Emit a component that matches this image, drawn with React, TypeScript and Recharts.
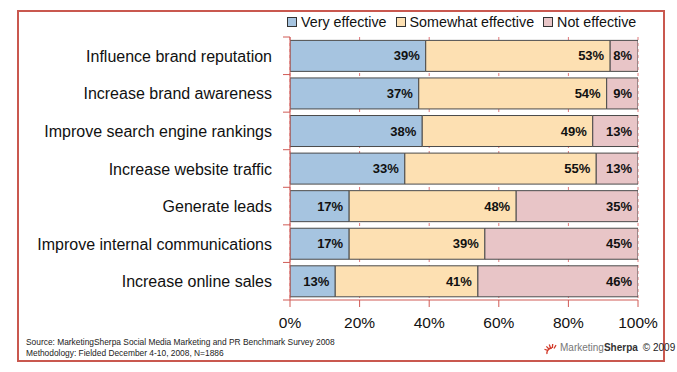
import { BarChart, Bar, XAxis, YAxis, CartesianGrid, LabelList } from "recharts";

const categories = [
  "Influence brand reputation",
  "Increase brand awareness",
  "Improve search engine rankings",
  "Increase website traffic",
  "Generate leads",
  "Improve internal communications",
  "Increase online sales",
];
const veryEffective = [39, 37, 38, 33, 17, 17, 13];
const somewhatEffective = [53, 54, 49, 55, 48, 39, 41];
const notEffective = [8, 9, 13, 13, 35, 45, 46];
const xTicks = [0, 20, 40, 60, 80, 100];

const series = [
  { key: "very", name: "Very effective", color: "#a6c4e0" },
  { key: "somewhat", name: "Somewhat effective", color: "#fde0b2" },
  { key: "not", name: "Not effective", color: "#e8c5c7" },
];

const data = categories.map((name, i) => ({
  name,
  very: veryEffective[i],
  somewhat: somewhatEffective[i],
  not: notEffective[i],
}));

const RED = "#d05a55";
const FONT = "'Liberation Sans', Arial, sans-serif";
const PLOT_TOP = 37;
const PLOT_BOTTOM = 300;
const X_AXIS_HEIGHT = 30;
const BAND = (PLOT_BOTTOM - PLOT_TOP) / categories.length;

function CategoryTick(props: any) {
  const { x, y, payload, index } = props;
  const half = BAND / 2;
  return (
    <g>
      <text x={x} y={y} dy={6} textAnchor="end" fontSize={16} fontFamily={FONT} fill="#111">
        {payload.value}
      </text>
      <line x1={283} x2={290} y1={y + half} y2={y + half} stroke={RED} strokeWidth={1} />
      {index === 0 && <line x1={283} x2={290} y1={y - half} y2={y - half} stroke={RED} strokeWidth={1} />}
    </g>
  );
}

function ChartLegend() {
  return (
    <div
      style={{
        position: "absolute",
        left: 287,
        top: 14,
        display: "flex",
        gap: 9,
        fontFamily: FONT,
        fontSize: 14.3,
        color: "#111",
        whiteSpace: "nowrap",
      }}
    >
      {series.map((s) => (
        <span key={s.key} style={{ display: "flex", alignItems: "center" }}>
          <span
            style={{
              display: "inline-block",
              width: 8,
              height: 8,
              background: s.color,
              border: "1px solid #333",
              marginRight: 4,
            }}
          />
          {s.name}
        </span>
      ))}
    </div>
  );
}

function SherpaIcon() {
  const rays = [-70, -45, -20, 5, 30];
  return (
    <svg width={16} height={14} style={{ verticalAlign: "middle" }}>
      {rays.map((a) => {
        const r = (a * Math.PI) / 180;
        return (
          <line
            key={a}
            x1={8 + Math.sin(r) * 4}
            y1={11 - Math.cos(r) * 4}
            x2={8 + Math.sin(r) * 8}
            y2={11 - Math.cos(r) * 8}
            stroke="#d23a2a"
            strokeWidth={1.3}
          />
        );
      })}
      <path d="M3 13 A5 5 0 0 1 8 7" fill="none" stroke="#d23a2a" strokeWidth={1.3} />
    </svg>
  );
}

export default function App() {
  return (
    <div style={{ position: "absolute", left: 0, top: 0, width: 677, height: 372, background: "#fff" }}>
      <div
        style={{
          position: "absolute",
          left: 17,
          top: 10,
          width: 644,
          height: 348,
          border: "2px solid #c9584f",
        }}
      />
      <ChartLegend />
      <div style={{ position: "absolute", left: 0, top: 0 }}>
        <BarChart
          width={677}
          height={372}
          data={data}
          layout="vertical"
          margin={{ top: PLOT_TOP, right: 39, bottom: 372 - PLOT_BOTTOM - X_AXIS_HEIGHT, left: 0 }}
          barCategoryGap="9%"
        >
          <CartesianGrid horizontal={false} stroke="#e0787a" strokeDasharray="3 3" />
          <XAxis
            type="number"
            domain={[0, 100]}
            allowDataOverflow
            height={X_AXIS_HEIGHT}
            ticks={xTicks}
            tickFormatter={(v) => `${v}%`}
            axisLine={{ stroke: RED }}
            tickLine={{ stroke: RED }}
            tickSize={7}
            tickMargin={10}
            tick={{ fontSize: 15.5, fontFamily: FONT, fill: "#111" }}
          />
          <YAxis
            type="category"
            dataKey="name"
            width={290}
            axisLine={{ stroke: RED }}
            tickLine={false}
            tickMargin={12}
            tick={<CategoryTick />}
            interval={0}
          />
          {series.map((s) => (
            <Bar
              key={s.key}
              dataKey={s.key}
              name={s.name}
              stackId="a"
              fill={s.color}
              stroke="#4a4a4a"
              strokeWidth={1}
              isAnimationActive={false}
            >
              <LabelList
                dataKey={s.key}
                position="insideRight"
                offset={6}
                formatter={(v: any) => `${v}%`}
                style={{ fontSize: 13, fontWeight: "bold", fontFamily: FONT, fill: "#111" }}
              />
            </Bar>
          ))}
        </BarChart>
      </div>
      <div
        style={{
          position: "absolute",
          left: 26,
          top: 337,
          fontFamily: FONT,
          fontSize: 8.4,
          color: "#222",
          lineHeight: "11px",
          whiteSpace: "nowrap",
        }}
      >
        <div>Source: MarketingSherpa Social Media Marketing and PR Benchmark Survey 2008</div>
        <div>Methodology: Fielded December 4-10, 2008, N=1886</div>
      </div>
      <div
        style={{
          position: "absolute",
          left: 544,
          top: 341,
          fontFamily: FONT,
          fontSize: 10,
          color: "#222",
          whiteSpace: "nowrap",
        }}
      >
        <SherpaIcon />
        <span style={{ color: "#777" }}>Marketing</span>
        <span style={{ fontWeight: "bold", color: "#333" }}>Sherpa</span>
        <span style={{ marginLeft: 5 }}>© 2009</span>
      </div>
    </div>
  );
}
